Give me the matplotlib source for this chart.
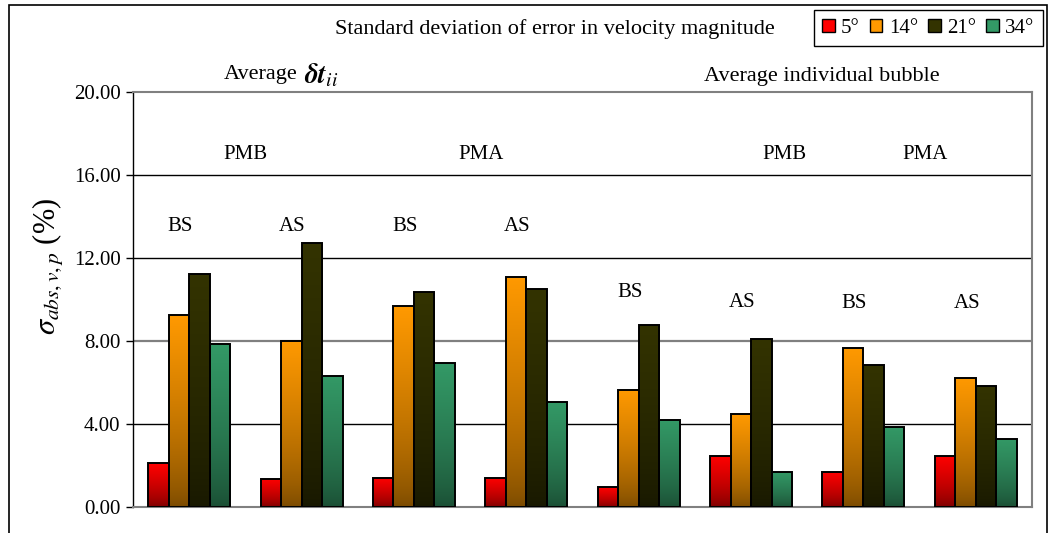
import numpy as np
import matplotlib
matplotlib.use('Agg')
import matplotlib.pyplot as plt
from matplotlib.patches import Patch, Rectangle
from matplotlib.colors import to_rgb

plt.rcParams['font.family'] = ['Liberation Serif', 'DejaVu Serif']
plt.rcParams['mathtext.fontset'] = 'stix'

# data
series = ['5°', '14°', '21°', '34°']
v5 = [2.10, 1.36, 1.42, 1.42, 0.95, 2.46, 1.70, 2.46]
v14 = [9.25, 8.02, 9.68, 11.10, 5.64, 4.48, 7.68, 6.23]
v21 = [11.22, 12.70, 10.35, 10.52, 8.77, 8.10, 6.83, 5.82]
v34 = [7.85, 6.33, 6.92, 5.06, 4.20, 1.70, 3.87, 3.29]
values = [v5, v14, v21, v34]
# (top colour, bottom colour) for the gradient fills
colors = [('#ff0000', '#7a0000'), ('#ff9900', '#7a4a00'),
          ('#333300', '#181800'), ('#339966', '#1a4d33')]

group_labels = ['BS', 'AS', 'BS', 'AS', 'BS', 'AS', 'BS', 'AS']
label_y = [13.5, 13.5, 13.5, 13.5, 10.35, 9.85, 9.8, 9.8]
method_labels = ['PMB', 'PMA', 'PMB', 'PMA']
method_x = [0.5, 2.6, 5.3, 6.55]
yticks = [0, 4, 8, 12, 16, 20]

fig = plt.figure(figsize=(10.48, 5.33), dpi=100)
ax = fig.add_axes([133/1048, 1-507/533, (1032-133)/1048, (507-92)/533])

x = np.arange(len(v5))
w = 0.73 / 4
for i, vals in enumerate(values):
    bars = ax.bar(x + (i - 1.5) * w, vals, w, facecolor='none',
                  edgecolor='black', linewidth=1.4, zorder=4)
    top, bot = np.array(to_rgb(colors[i][0])), np.array(to_rgb(colors[i][1]))
    t = np.linspace(0, 1, 100)[:, None] ** 0.7
    grad = (bot + (top - bot) * t)[:, None, :]
    for b in bars:
        x0, y0 = b.get_x(), b.get_y()
        im = ax.imshow(grad, extent=[x0, x0 + b.get_width(), y0, y0 + b.get_height()],
                       origin='lower', aspect='auto', zorder=3, interpolation='bilinear')
        im.set_clip_path(b)

ax.set_xlim(-0.5, 7.5)
ax.set_ylim(0, 20)
ax.set_yticks(yticks)
ax.set_yticklabels(['%.2f' % v for v in yticks], fontsize=15)
ax.set_xticks([])
ax.tick_params(axis='y', direction='out', length=5, width=1, pad=4)
for yv in [4, 12, 16]:
    ax.axhline(yv, color='black', linewidth=1, zorder=1)
ax.axhline(8, color='#808080', linewidth=1.6, zorder=1)
ax.spines['left'].set_color('black')
ax.spines['left'].set_linewidth(1)
for s in ['top', 'right', 'bottom']:
    ax.spines[s].set_color('#808080')
    ax.spines[s].set_linewidth(1.5)

for xi, lab, ly in zip(x, group_labels, label_y):
    ax.text(xi - 0.08, ly, lab, ha='center', va='center', fontsize=15)
for mx, lab in zip(method_x, method_labels):
    ax.text(mx, 17.0, lab, ha='center', va='center', fontsize=15)

ax.set_ylabel(r'$\sigma_{abs,v,p}$ (%)', fontsize=22)
ax.yaxis.set_label_coords(-0.075, 0.58)

fig.text(555/1048, 1-29/533, 'Standard deviation of error in velocity magnitude',
         ha='center', va='center', fontsize=16)
fig.text(224/1048, 1-75/533, 'Average', ha='left', va='center', fontsize=16)
fig.text(304/1048, 1-76/533, r'$\mathbfit{\delta t}_{ii}$',
         ha='left', va='center', fontsize=20)
fig.text(822/1048, 1-77/533, 'Average individual bubble',
         ha='center', va='center', fontsize=16)

handles = [Patch(facecolor=c[0], edgecolor='black', linewidth=1) for c in colors]
leg = fig.legend(handles, series, loc='upper right', bbox_to_anchor=(1049/1048, 1-4/533),
                 ncol=4, fontsize=15, fancybox=False, edgecolor='black',
                 handlelength=0.6, handleheight=0.6, handletextpad=0.3,
                 columnspacing=0.5, borderpad=0.4, borderaxespad=0.3, framealpha=1)
leg.get_frame().set_linewidth(1)

# outer chart frame
fig.patches.append(Rectangle((9/1048, -0.1), (1047-9)/1048, 1.1 - 5/533,
                             transform=fig.transFigure, fill=False,
                             edgecolor='black', linewidth=1.2))

fig.savefig('out.png', dpi=100)
